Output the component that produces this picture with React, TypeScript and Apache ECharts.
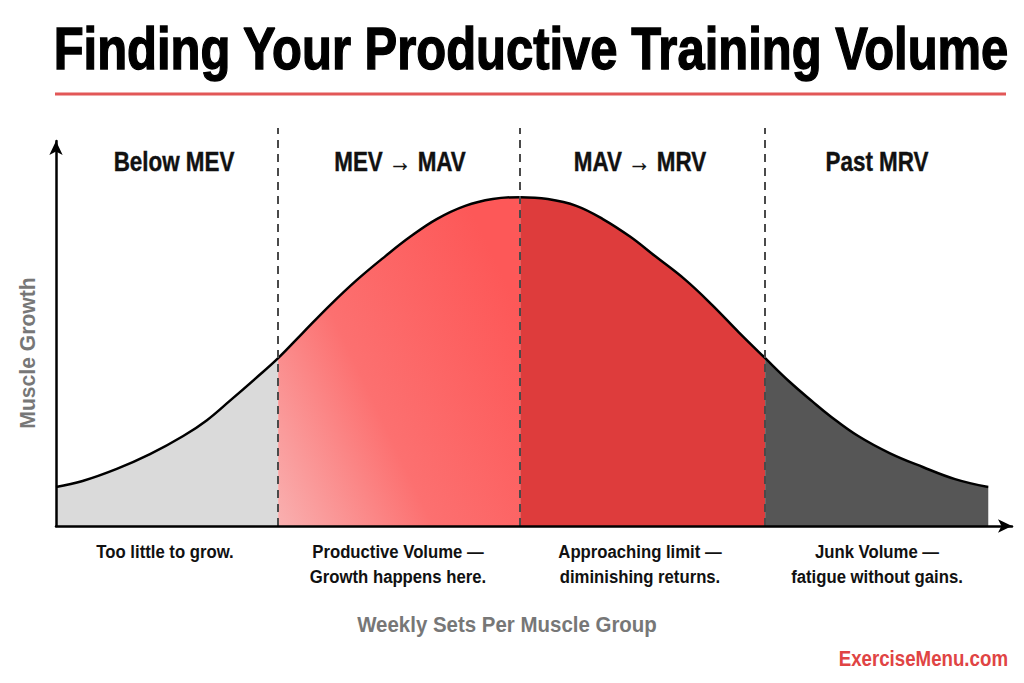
import React, { useEffect, useRef } from "react";
import * as echarts from "echarts";

// Curve (x: arbitrary volume units, y: growth units)
const CURVE_X = [0, 2.8, 6.4, 9.9, 13.4, 15.9, 18.3, 21.0, 23.4, 26.0, 28.9, 31.7, 34.7, 37.3, 40.1, 43.1, 46.0, 48.9, 51.8, 54.8, 57.6, 60.5, 63.1, 66.3, 69.1, 71.9, 74.7, 77.3, 79.7, 81.6, 84.5, 87.8, 91.3, 94.7, 98.2];
const CURVE_Y = [10.3, 11.9, 15.1, 19.0, 23.8, 28.0, 33.1, 39.0, 44.4, 51.1, 58.5, 65.1, 71.4, 76.5, 81.2, 84.7, 86.5, 87.0, 86.5, 84.7, 81.2, 76.5, 71.4, 65.1, 58.5, 51.3, 44.4, 38.1, 32.9, 29.0, 23.8, 19.3, 15.6, 12.4, 10.3];

const BOUNDARIES = [23.4, 48.9, 74.7];
const ZONE_TITLES = ["Below MEV", "MEV → MAV", "MAV → MRV", "Past MRV"];
const ZONE_NOTES = [
  ["Too little to grow."],
  ["Productive Volume —", "Growth happens here."],
  ["Approaching limit —", "diminishing returns."],
  ["Junk Volume —", "fatigue without gains."],
];
const TITLE = "Finding Your Productive Training Volume";
const X_NAME = "Weekly Sets Per Muscle Group";
const Y_NAME = "Muscle Growth";
const BRAND = "ExerciseMenu.com";

const X_MAX = 100.7;
const Y_MAX = 101.85;

const FONT = '"Liberation Sans", Arial, sans-serif';

export default function App() {
  const ref = useRef<HTMLDivElement>(null);
  useEffect(() => {
    if (!ref.current) return;
    const chart = echarts.init(ref.current, null, { renderer: "svg" });
    const pts = CURVE_X.map((x, i) => [x, CURVE_Y[i]]);
    const edges = [CURVE_X[0], ...BOUNDARIES, CURVE_X[CURVE_X.length - 1]];
    const zoneFills: any[] = [
      "#dadada",
      new echarts.graphic.LinearGradient(0, 1, 1, 0.35, [
        { offset: 0, color: "#f9b0b0" },
        { offset: 0.45, color: "#fc7070" },
        { offset: 1, color: "#fd5858" },
      ]),
      "#de3c3c",
      "#565656",
    ];
    const zoneSeries = zoneFills.map((c, k) => ({
      type: "line",
      smooth: 0.4,
      symbol: "none",
      silent: true,
      z: 2,
      lineStyle: { width: 0, opacity: 0 },
      areaStyle: { color: c, opacity: 1 },
      data: pts.filter((p) => p[0] >= edges[k] - 1e-9 && p[0] <= edges[k + 1] + 1e-9),
    }));

    const zoneTitleX = [174, 400, 640, 877];
    const zoneNoteX = [165, 398, 640, 877];
    const graphics: any[] = [];
    const txt = (text: string, x: number, y: number, size: number, sx: number, fill: string, align = "center", rotation = 0, stroke = 0) => ({
      type: "text",
      x,
      y,
      scaleX: sx,
      rotation,
      silent: true,
      style: {
        text,
        fill,
        font: `bold ${size}px ${FONT}`,
        textAlign: align,
        textVerticalAlign: "middle",
        align,
        verticalAlign: "middle",
        stroke: stroke ? fill : undefined,
        lineWidth: stroke,
      },
    });
    graphics.push(txt(TITLE, 531, 48, 60, 0.816, "#000", "center", 0, 1.4));
    graphics.push({
      type: "line",
      silent: true,
      shape: { x1: 55, y1: 94, x2: 1006, y2: 94 },
      style: { stroke: "#e25757", lineWidth: 3 },
    });
    ZONE_TITLES.forEach((t, i) => graphics.push(txt(t, zoneTitleX[i], 162, 27, 0.83, "#111", "center", 0, 0.4)));
    ZONE_NOTES.forEach((lines, i) =>
      lines.forEach((l, j) => graphics.push(txt(l, zoneNoteX[i], 552 + j * 25, 19, 0.88, "#111")))
    );
    graphics.push(txt(X_NAME, 507, 625, 22, 0.93, "#777"));
    graphics.push(txt(Y_NAME, 27, 353, 22, 0.96, "#777", "center", Math.PI / 2));
    graphics.push(txt(BRAND, 1008, 658, 22, 0.85, "#e04444", "right"));

    const hiddenAxis = {
      show: false,
      axisLine: { show: false },
      axisTick: { show: false },
      axisLabel: { show: false },
      splitLine: { show: false },
    };

    chart.setOption({
      animation: false,
      backgroundColor: "#fff",
      grid: [
        { left: 56, right: 12, top: 141, bottom: 157 },
        { left: 56, right: 12, top: 128, bottom: 157 },
      ],
      xAxis: [
        {
          type: "value",
          gridIndex: 0,
          min: 0,
          max: X_MAX,
          z: 5,
          axisLine: { show: true, symbol: ["none", "arrow"], symbolSize: [10, 14], lineStyle: { color: "#000", width: 2.5 } },
          axisTick: { show: false },
          axisLabel: { show: false },
          splitLine: { show: false },
        },
        { type: "value", gridIndex: 1, min: 0, max: X_MAX, ...hiddenAxis },
      ],
      yAxis: [
        {
          type: "value",
          gridIndex: 0,
          min: 0,
          max: Y_MAX,
          z: 5,
          axisLine: { show: true, symbol: ["none", "arrow"], symbolSize: [10, 14], lineStyle: { color: "#000", width: 2.5 } },
          axisTick: { show: false },
          axisLabel: { show: false },
          splitLine: { show: false },
        },
        { type: "value", gridIndex: 1, min: 0, max: 1, ...hiddenAxis },
      ],
      series: [
        ...zoneSeries,
        {
          type: "line",
          smooth: 0.4,
          symbol: "none",
          silent: true,
          z: 4,
          lineStyle: { color: "#000", width: 2.5 },
          data: pts,
        },
        {
          type: "line",
          xAxisIndex: 1,
          yAxisIndex: 1,
          symbol: "none",
          silent: true,
          z: 3,
          lineStyle: { width: 0, opacity: 0 },
          data: [],
          markLine: {
            silent: true,
            symbol: "none",
            label: { show: false },
            lineStyle: { color: "#4a4a4a", width: 2, type: [8, 6] },
            data: BOUNDARIES.map((b) => [{ coord: [b, 0] }, { coord: [b, 1] }]),
          },
        },
      ],
      graphic: graphics,
    });
    return () => chart.dispose();
  }, []);
  return <div ref={ref} style={{ position: "fixed", left: 0, top: 0, width: 1024, height: 683 }} />;
}
